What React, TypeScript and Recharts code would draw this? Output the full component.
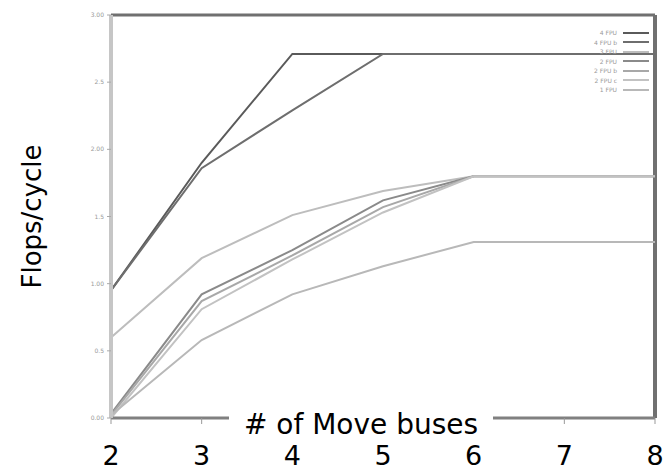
import React from "react";
import {
  Line,
  LineChart,
  ReferenceLine,
  XAxis,
  YAxis,
} from "recharts";

// Move buses on the x axis
const buses = [2, 3, 4, 5, 6, 7, 8];

// Flops/cycle for each configuration
const cfgA = [0.95, 1.9, 2.71, 2.71, 2.71, 2.71, 2.71];
const cfgB = [0.95, 1.86, 2.29, 2.71, 2.71, 2.71, 2.71];
const cfgC = [0.6, 1.19, 1.51, 1.69, 1.8, 1.8, 1.8];
const cfgD = [0.03, 0.92, 1.25, 1.62, 1.8, 1.8, 1.8];
const cfgE = [0.02, 0.87, 1.21, 1.57, 1.8, 1.8, 1.8];
const cfgF = [0.0, 0.81, 1.18, 1.53, 1.8, 1.8, 1.8];
const cfgG = [0.02, 0.58, 0.92, 1.13, 1.31, 1.31, 1.31];

const yTicks = [0, 0.5, 1, 1.5, 2, 2.5, 3];

const seriesNames = ["4 FPU", "4 FPU b", "3 FPU", "2 FPU", "2 FPU b", "2 FPU c", "1 FPU"];
const seriesColors = ["#5a5a5a", "#6e6e6e", "#bdbdbd", "#8a8a8a", "#a8a8a8", "#c2c2c2", "#b8b8b8"];
const seriesValues = [cfgA, cfgB, cfgC, cfgD, cfgE, cfgF, cfgG];

const data = buses.map((b, i) => {
  const row: Record<string, number> = { buses: b };
  seriesValues.forEach((vals, k) => {
    row["s" + k] = vals[i];
  });
  return row;
});

const FONT = "'DejaVu Sans', sans-serif";

const XTick = ({ x, y, payload }: any) => (
  <text x={x} y={y + 41} textAnchor="middle" fontFamily={FONT} fontSize={27} fill="#000">
    {payload.value}
  </text>
);

const YTick = ({ x, y, payload, index }: any) => (
  <text x={x} y={y + 2} textAnchor="end" fontFamily={FONT} fontSize={6} fill="#999">
    {index % 2 === 0 ? Number(payload.value).toFixed(2) : Number(payload.value).toFixed(1)}
  </text>
);

const XLabel = ({ viewBox }: any) => (
  <g>
    <rect x={viewBox.x + 118} y={viewBox.y - 10} width={264} height={20} fill="#fff" />
    <text
      x={viewBox.x + 250}
      y={viewBox.y + 16}
      textAnchor="middle"
      fontFamily={FONT}
      fontSize={28}
      fill="#000"
    >
      # of Move buses
    </text>
  </g>
);

const YLabel = ({ viewBox }: any) => (
  <text
    x={33}
    y={viewBox.y + viewBox.height / 2}
    transform={`rotate(-90, 33, ${viewBox.y + viewBox.height / 2})`}
    textAnchor="middle"
    dominantBaseline="middle"
    fontFamily={FONT}
    fontSize={26}
    fill="#000"
  >
    Flops/cycle
  </text>
);

const LegendBox = () => (
  <div
    style={{
      position: "absolute",
      top: 28,
      right: 18,
      fontFamily: FONT,
      fontSize: 6,
      color: "#999",
      lineHeight: "9.5px",
    }}
  >
    {seriesNames.map((n, i) => (
      <div key={n} style={{ display: "flex", alignItems: "center", justifyContent: "flex-end" }}>
        <span>{n}</span>
        <span
          style={{
            display: "inline-block",
            width: 26,
            height: 2,
            marginLeft: 6,
            background: seriesColors[i],
          }}
        />
      </div>
    ))}
  </div>
);

export default function App() {
  return (
    <div style={{ position: "absolute", left: 0, top: 0, width: 667, height: 472, background: "#fff" }}>
      <LineChart width={667} height={472} data={data} margin={{ top: 15, right: 12, left: 0, bottom: 0 }}>
        <XAxis
          dataKey="buses"
          type="number"
          domain={[2, 8]}
          ticks={buses}
          height={54}
          axisLine={{ stroke: "#808080", strokeWidth: 3 }}
          tickLine={{ stroke: "#999" }}
          tickSize={6}
          tickMargin={0}
          tick={<XTick />}
          label={<XLabel />}
        />
        <YAxis
          type="number"
          domain={[0, 3]}
          ticks={yTicks}
          width={111}
          axisLine={{ stroke: "#c6c6c6", strokeWidth: 4 }}
          tickLine={{ stroke: "#aaa" }}
          tickSize={4}
          tickMargin={3}
          tick={<YTick />}
          label={<YLabel />}
        />
        <ReferenceLine y={3} stroke="#707070" strokeWidth={3} />
        <ReferenceLine x={8} stroke="#707070" strokeWidth={4} />
        {seriesNames.map((n, k) => (
          <Line
            key={n}
            type="linear"
            dataKey={"s" + k}
            name={n}
            stroke={seriesColors[k]}
            strokeWidth={2}
            dot={false}
            isAnimationActive={false}
          />
        ))}
      </LineChart>
      <LegendBox />
    </div>
  );
}
